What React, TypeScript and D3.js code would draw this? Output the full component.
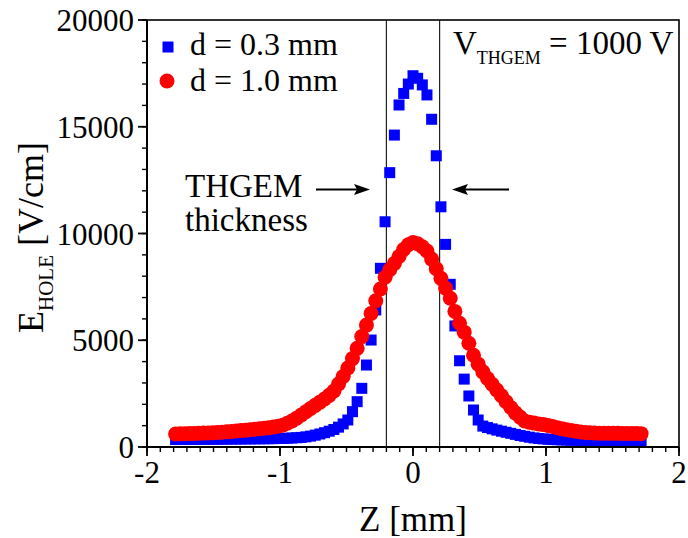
import React from 'react';
import * as d3 from 'd3';

// Z positions (mm) shared by both series
const zValues = [
  -1.785, -1.75, -1.715, -1.68, -1.645, -1.61, -1.575, -1.54, -1.505, -1.47,
  -1.435, -1.4, -1.365, -1.33, -1.295, -1.26, -1.225, -1.19, -1.155, -1.12,
  -1.085, -1.05, -1.015, -0.98, -0.945, -0.91, -0.875, -0.84, -0.805, -0.77,
  -0.735, -0.7, -0.665, -0.63, -0.595, -0.56, -0.525, -0.49, -0.455, -0.42,
  -0.385, -0.35, -0.315, -0.28, -0.245, -0.21, -0.175, -0.14, -0.105, -0.07,
  -0.035, 0, 0.035, 0.07, 0.105, 0.14, 0.175, 0.21, 0.245, 0.28,
  0.315, 0.35, 0.385, 0.42, 0.455, 0.49, 0.525, 0.56, 0.595, 0.63,
  0.665, 0.7, 0.735, 0.77, 0.805, 0.84, 0.875, 0.91, 0.945, 0.98,
  1.015, 1.05, 1.085, 1.12, 1.155, 1.19, 1.225, 1.26, 1.295, 1.33,
  1.365, 1.4, 1.435, 1.47, 1.505, 1.54, 1.575, 1.61, 1.645, 1.68,
  1.715,
];

// d = 0.3 mm (blue squares)
const blueE = [
  350, 350, 352, 354, 356, 358, 360, 362, 364, 366,
  368, 370, 372, 374, 376, 378, 380, 382, 384, 386,
  388, 392, 396, 402, 410, 420, 435, 450, 475, 510,
  555, 610, 670, 740, 820, 930, 1080, 1265, 1655, 2123,
  2748, 3840, 5010, 6420, 8370, 10550, 12850, 14610, 16020, 16560,
  17000, 17390, 17270, 16960, 16490, 15350, 13640, 11250, 9490, 7620,
  5670, 4040, 3180, 2390, 1733, 1265, 980, 910, 850, 790,
  740, 690, 640, 590, 540, 500, 460, 425, 400, 380,
  362, 350, 340, 332, 325, 318, 312, 306, 300, 296,
  292, 288, 285, 282, 280, 278, 276, 274, 272, 270,
  268,
];

// d = 1.0 mm (red circles)
const redE = [
  610, 616, 622, 628, 635, 642, 650, 660, 670, 682,
  696, 712, 730, 750, 770, 790, 810, 830, 855, 880,
  905, 935, 970, 1020, 1110, 1220, 1350, 1500, 1650, 1800,
  1950, 2100, 2250, 2420, 2620, 2950, 3300, 3700, 4140, 4620,
  5170, 5710, 6250, 6850, 7400, 7950, 8300, 8600, 8920, 9250,
  9470, 9580, 9520, 9380, 9180, 8800, 8350, 7900, 7440, 6965,
  6350, 5795, 5380, 4860, 4300, 3880, 3520, 3210, 2940, 2670,
  2400, 2120, 1850, 1600, 1400, 1220, 1160, 1120, 1080, 1050,
  1010, 960, 900, 850, 810, 770, 735, 705, 680, 665,
  655, 648, 644, 642, 640, 640, 638, 636, 634, 630,
  625,
];

const xTicks = [-2, -1, 0, 1, 2];
const yTicks = [0, 5000, 10000, 15000, 20000];
const thicknessEdges = [-0.2, 0.2];
const legendLabels = ['d = 0.3 mm', 'd = 1.0 mm'];

const font = '"Liberation Serif", "Times New Roman", serif';

export default function App() {
  const width = 688;
  const height = 538;
  const margin = { top: 20, right: 9, bottom: 91, left: 147 };

  const x = d3.scaleLinear().domain([-2, 2]).range([margin.left, width - margin.right]);
  const y = d3.scaleLinear().domain([0, 20000]).range([height - margin.bottom, margin.top]);

  const xMinor = x.ticks(40);
  const yMinor = y.ticks(20);
  const x0 = x.range()[0], x1 = x.range()[1];
  const y0 = y.range()[0], y1 = y.range()[1];

  const sq = 11;

  return (
    <svg width={width} height={height} style={{ position: 'absolute', left: 0, top: 0, background: '#fff' }}
      fontFamily={font}>
      {/* thickness edges */}
      {thicknessEdges.map(t => (
        <line key={t} x1={x(t)} x2={x(t)} y1={y1} y2={y0} stroke="#222" strokeWidth={1.2} />
      ))}

      {/* data */}
      {zValues.map((z, i) => (
        <rect key={'b' + i} x={x(z) - sq / 2} y={y(blueE[i]) - sq / 2} width={sq} height={sq} fill="#0000ff" />
      ))}
      {zValues.map((z, i) => (
        <circle key={'r' + i} cx={x(z)} cy={y(redE[i])} r={7.5} fill="#ff0000" />
      ))}

      {/* frame */}
      <rect x={x0} y={y1} width={x1 - x0} height={y0 - y1} fill="none" stroke="#000" strokeWidth={1.6} />
      <line x1={x0} x2={x1} y1={y0} y2={y0} stroke="#000" strokeWidth={2} />
      <line x1={x0} x2={x0} y1={y1} y2={y0} stroke="#000" strokeWidth={2} />

      {/* x axis */}
      {xMinor.map(t => (
        <line key={'xm' + t} x1={x(t)} x2={x(t)} y1={y0} y2={y0 + 5} stroke="#000" strokeWidth={1.4} />
      ))}
      {xTicks.map(t => (
        <g key={'x' + t}>
          <line x1={x(t)} x2={x(t)} y1={y0} y2={y0 + 9} stroke="#000" strokeWidth={1.8} />
          <text x={x(t)} y={y0 + 36} fontSize={31} textAnchor="middle">{t < 0 ? '-' + Math.abs(t) : t}</text>
        </g>
      ))}

      {/* y axis */}
      {yMinor.map(t => (
        <line key={'ym' + t} x1={x0 - 5} x2={x0} y1={y(t)} y2={y(t)} stroke="#000" strokeWidth={1.4} />
      ))}
      {yTicks.map(t => (
        <g key={'y' + t}>
          <line x1={x0 - 9} x2={x0} y1={y(t)} y2={y(t)} stroke="#000" strokeWidth={1.8} />
          <text x={x0 - 13} y={y(t) + 11} fontSize={31} textAnchor="end">{t}</text>
        </g>
      ))}

      {/* axis titles */}
      <text x={(x0 + x1) / 2} y={531} fontSize={35} textAnchor="middle">Z [mm]</text>
      <text transform="translate(43,333) rotate(-90)" fontSize={36}>
        E<tspan fontSize={21} dy={10}>HOLE</tspan><tspan dy={-10}> [V/cm]</tspan>
      </text>

      {/* legend */}
      <rect x={168 - 5.5} y={47 - 5.5} width={11} height={11} fill="#0000ff" />
      <circle cx={167} cy={81} r={7.5} fill="#ff0000" />
      <text x={190} y={55} fontSize={32}>{legendLabels[0]}</text>
      <text x={190} y={91} fontSize={32}>{legendLabels[1]}</text>

      {/* annotations */}
      <text x={453} y={54} fontSize={33}>
        V<tspan fontSize={18} dy={10}>THGEM</tspan><tspan dy={-10}> = 1000 V</tspan>
      </text>
      <text x={185} y={197} fontSize={33}>THGEM</text>
      <text x={185} y={231} fontSize={33}>thickness</text>

      {/* arrows */}
      <line x1={316} x2={360} y1={189.5} y2={189.5} stroke="#000" strokeWidth={2.2} />
      <path d="M354,184 L370,189.5 L354,195 L357,189.5 Z" fill="#000" />
      <line x1={509} x2={462} y1={189.5} y2={189.5} stroke="#000" strokeWidth={2.2} />
      <path d="M468,184 L452,189.5 L468,195 L465,189.5 Z" fill="#000" />
    </svg>
  );
}
